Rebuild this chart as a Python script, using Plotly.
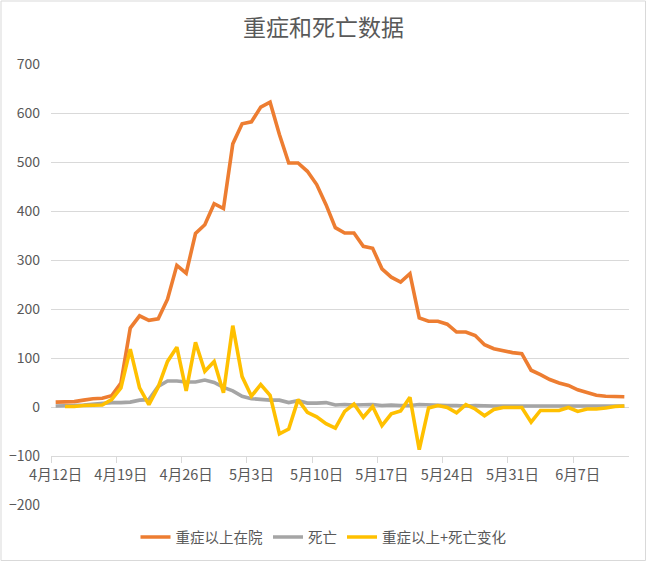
import pandas as pd
import plotly.graph_objects as go

# ---- data ----
dates = pd.date_range("2022-04-12", periods=62, freq="D")

severe_hosp = [10, 10, 11, 14, 17, 18, 23, 49, 161, 186, 177, 180, 220, 289, 273,
               354, 372, 415, 405, 537, 578, 582, 612, 622, 556, 498, 498, 481, 454,
               413, 366, 355, 355, 328, 324, 282, 265, 255, 272, 182, 175, 175, 169,
               153, 153, 146, 127, 119, 115, 111, 109, 75, 66, 56, 49, 44, 35, 29,
               24, 22, 22, 21]

deaths = [2, 2, 3, 4, 6, 8, 9, 9, 10, 14, 15, 42, 53, 53, 51, 51, 55, 50, 40, 33,
          22, 17, 15, 14, 14, 9, 13, 8, 8, 9, 4, 5, 4, 4, 5, 3, 4, 3, 3, 5, 4,
          3, 3, 3, 2, 3, 2, 2, 2, 2, 2, 2, 2, 2, 2, 2, 2, 2, 2, 2, 2, 2]

change = [None, 1, 1, 3, 3, 4, 15, 39, 118, 39, 5, 41, 93, 122, 33, 132, 73, 93,
          29, 166, 62, 22, 46, 24, -55, -45, 15, -11, -20, -34, -43, -9, 6, -21,
          1, -38, -14, -8, 20, -87, -2, 3, -1, -12, 5, -4, -18, -5, -1, -1, -1,
          -31, -7, -7, -7, -1, -9, -4, -4, -2, 1, 2]

tick_dates = ["2022-04-12", "2022-04-19", "2022-04-26", "2022-05-03", "2022-05-10",
              "2022-05-17", "2022-05-24", "2022-05-31", "2022-06-07"]
tick_labels = ["4月12日", "4月19日", "4月26日", "5月3日", "5月10日",
               "5月17日", "5月24日", "5月31日", "6月7日"]

series_names = ["重症以上在院", "死亡", "重症以上+死亡变化"]
colors = ["#ED7D31", "#A5A5A5", "#FFC000"]

FONT = "Noto Sans CJK SC, Microsoft YaHei, sans-serif"
TXT = "#595959"
GRID = "#D9D9D9"

fig = go.Figure()
for name, vals, col in zip(series_names, [severe_hosp, deaths, change], colors):
    fig.add_trace(go.Scatter(x=dates, y=vals, mode="lines", name=name,
                             line=dict(color=col, width=3.6), hoverinfo="skip"))

W, H = 647, 562
ml, mr, mt, mb = 51, 18, 64, 57
pw, ph = W - ml - mr, H - mt - mb

fig.update_layout(
    width=W, height=H,
    margin=dict(l=ml, r=mr, t=mt, b=mb, autoexpand=False),
    paper_bgcolor="white", plot_bgcolor="white",
    font=dict(family=FONT, color=TXT, size=14.5),
    title=dict(text="重症和死亡数据", x=0.5, xref="container", xanchor="center",
               y=1 - 28 / H, yanchor="middle",
               font=dict(size=23, color=TXT, family=FONT)),
    showlegend=True,
    legend=dict(orientation="h", x=(W / 2 - ml) / pw, xanchor="center",
                y=-(537 - (H - mb)) / ph,
                yanchor="middle", font=dict(size=14.5, color=TXT),
                itemwidth=30, tracegroupgap=0, bgcolor="rgba(0,0,0,0)"),
    xaxis=dict(type="date", range=["2022-04-11 12:00", "2022-06-12 12:00"],
               tickmode="array", tickvals=tick_dates, ticktext=tick_labels,
               ticks="", showgrid=False, zeroline=False,
               showline=True, linecolor=GRID, linewidth=1,
               anchor="free", position=100 / 900,
               ticklabelstandoff=6,
               tickfont=dict(size=14.5, color=TXT),
               minor=dict(ticks="outside", tick0="2022-04-11 12:00",
                          dtick=7 * 86400000, ticklen=6, tickcolor=GRID,
                          tickwidth=1, showgrid=False)),
    yaxis=dict(range=[-200, 700], dtick=100, tick0=0, showgrid=True,
               gridcolor=GRID, gridwidth=1, zeroline=False, showline=False,
               ticks="", ticklabelstandoff=10,
               tickfont=dict(size=14, color=TXT)),
    shapes=[dict(type="rect", xref="paper", yref="paper",
                 x0=(1 - ml) / pw, x1=(W - 1.5 - ml) / pw,
                 y0=-(mb - 1.5) / ph, y1=1 + (mt - 1) / ph,
                 line=dict(color=GRID, width=1), layer="below")],
)

fig.write_html("out.html", config={"displayModeBar": False})
